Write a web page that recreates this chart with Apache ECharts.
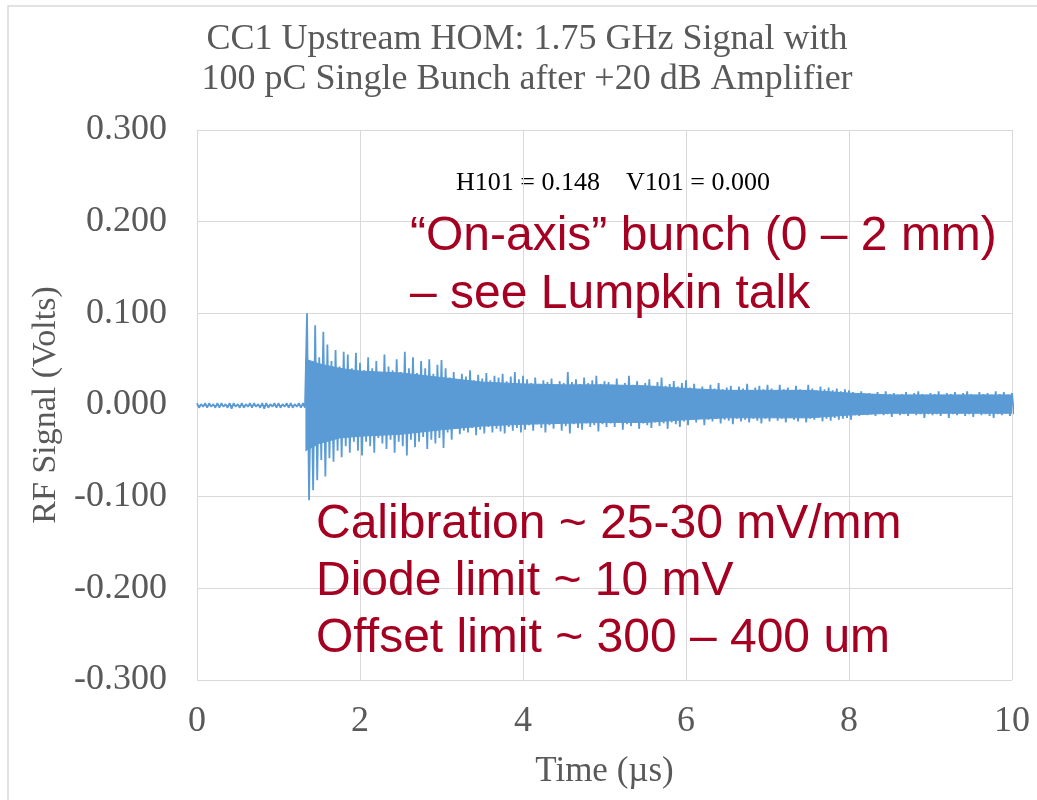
<!DOCTYPE html>
<html>
<head>
<meta charset="utf-8">
<title>CC1 Upstream HOM</title>
<script src="https://cdn.jsdelivr.net/npm/echarts@6/dist/echarts.min.js"></script>
<style>
html, body { margin: 0; padding: 0; background: #fff; }
#demo { width: 1037px; height: 800px; }
</style>
</head>
<body>
<div id="demo"></div>
<script>
// sample spacing of the peak readings (us)
var sampleStep = 0.05;

// positive / negative peaks read every 0.05 us, from t = 0 to t = 10 us (Volts)
var sigHigh = [
    // 0 - 1.30 us, quiet baseline
    0.002, 0.001, 0.002, 0.002, 0.001, 0.002, 0.002, 0.001, 0.002, 0.002,
    0.001, 0.002, 0.001, 0.002, 0.002, 0.001, 0.002, 0.002, 0.001, 0.002,
    0.002, 0.001, 0.002, 0.002, 0.001, 0.002, 0.002,
    // 1.35 - 2.00
    0.100, 0.045, 0.087, 0.052, 0.080, 0.066, 0.048, 0.060, 0.042, 0.058, 0.055, 0.040, 0.057, 0.046,
    // 2.05 - 3.00
    0.038, 0.052, 0.040, 0.048, 0.036, 0.055, 0.042, 0.038, 0.050, 0.036,
    0.058, 0.040, 0.052, 0.035, 0.048, 0.040, 0.050, 0.034, 0.044, 0.049,
    // 3.05 - 4.00
    0.040, 0.030, 0.036, 0.028, 0.034, 0.031, 0.038, 0.027, 0.033, 0.029,
    0.035, 0.027, 0.032, 0.030, 0.034, 0.026, 0.031, 0.036, 0.028, 0.032,
    // 4.05 - 5.00
    0.028, 0.024, 0.030, 0.023, 0.027, 0.025, 0.029, 0.022, 0.026, 0.024,
    0.036, 0.025, 0.028, 0.023, 0.030, 0.024, 0.027, 0.032, 0.023, 0.026,
    // 5.05 - 6.00
    0.025, 0.022, 0.029, 0.021, 0.024, 0.032, 0.022, 0.026, 0.020, 0.024,
    0.028, 0.021, 0.025, 0.030, 0.021, 0.023, 0.026, 0.020, 0.024, 0.027,
    // 6.05 - 7.00
    0.019, 0.023, 0.017, 0.020, 0.016, 0.022, 0.018, 0.024, 0.017, 0.019,
    0.021, 0.016, 0.020, 0.018, 0.023, 0.016, 0.019, 0.021, 0.017, 0.022,
    // 7.05 - 8.00
    0.018, 0.016, 0.022, 0.017, 0.019, 0.016, 0.021, 0.017, 0.016, 0.022,
    0.018, 0.016, 0.020, 0.017, 0.019, 0.016, 0.018, 0.015, 0.017, 0.016,
    // 8.05 - 9.00
    0.014, 0.012, 0.015, 0.011, 0.013, 0.012, 0.014, 0.011, 0.015, 0.012,
    0.013, 0.011, 0.012, 0.014, 0.011, 0.013, 0.015, 0.012, 0.011, 0.013,
    // 9.05 - 10.00
    0.012, 0.015, 0.011, 0.013, 0.012, 0.014, 0.011, 0.013, 0.015, 0.012,
    0.011, 0.014, 0.012, 0.013, 0.011, 0.015, 0.012, 0.014, 0.011, 0.013
];
var sigLow = [
    -0.003, -0.002, -0.003, -0.002, -0.003, -0.003, -0.002, -0.003, -0.004, -0.002,
    -0.003, -0.003, -0.002, -0.003, -0.002, -0.003, -0.004, -0.003, -0.002, -0.003,
    -0.003, -0.002, -0.003, -0.003, -0.002, -0.003, -0.003,
    -0.104, -0.093, -0.082, -0.060, -0.078, -0.058, -0.062, -0.050, -0.057, -0.045, -0.052, -0.040, -0.050, -0.055,
    -0.040, -0.045, -0.052, -0.036, -0.042, -0.048, -0.038, -0.052, -0.040, -0.045,
    -0.055, -0.038, -0.046, -0.040, -0.035, -0.048, -0.038, -0.042, -0.036, -0.047,
    -0.030, -0.038, -0.026, -0.032, -0.028, -0.030, -0.025, -0.033, -0.027, -0.031,
    -0.024, -0.030, -0.026, -0.029, -0.031, -0.024, -0.028, -0.025, -0.030, -0.027,
    -0.022, -0.028, -0.021, -0.025, -0.030, -0.022, -0.026, -0.020, -0.028, -0.023,
    -0.031, -0.021, -0.025, -0.027, -0.020, -0.024, -0.022, -0.029, -0.021, -0.024,
    -0.020, -0.024, -0.019, -0.027, -0.021, -0.023, -0.019, -0.026, -0.020, -0.022,
    -0.025, -0.019, -0.023, -0.020, -0.026, -0.019, -0.021, -0.024, -0.018, -0.022,
    -0.016, -0.019, -0.015, -0.022, -0.016, -0.018, -0.015, -0.020, -0.016, -0.017,
    -0.021, -0.015, -0.018, -0.016, -0.019, -0.015, -0.017, -0.020, -0.015, -0.018,
    -0.014, -0.017, -0.015, -0.019, -0.014, -0.016, -0.018, -0.014, -0.019, -0.015,
    -0.016, -0.014, -0.018, -0.015, -0.017, -0.014, -0.016, -0.015, -0.014, -0.016,
    -0.011, -0.012, -0.009, -0.011, -0.010, -0.012, -0.009, -0.011, -0.010, -0.013,
    -0.009, -0.011, -0.010, -0.012, -0.009, -0.011, -0.010, -0.014, -0.010, -0.011,
    -0.010, -0.012, -0.009, -0.014, -0.010, -0.011, -0.009, -0.012, -0.010, -0.013,
    -0.009, -0.011, -0.010, -0.012, -0.014, -0.010, -0.011, -0.009, -0.012, -0.010
];

// solid core of the ringing (where the trace is too dense to separate), Volts
var bandTimes = [1.33, 1.5, 1.75, 2, 2.5, 3, 3.5, 4, 4.5, 5, 5.5, 6, 6.5, 7, 7.5, 8, 8.5, 9, 9.5, 10];
var bandHigh = [0.050, 0.045, 0.040, 0.037, 0.035, 0.030, 0.025, 0.023, 0.022, 0.022,
                0.021, 0.018, 0.016, 0.016, 0.016, 0.013, 0.011, 0.011, 0.011, 0.011];
var bandLow = [-0.050, -0.042, -0.036, -0.034, -0.032, -0.027, -0.023, -0.021, -0.020, -0.019,
               -0.019, -0.016, -0.014, -0.014, -0.014, -0.011, -0.009, -0.009, -0.009, -0.009];

var xTicks = [0, 2, 4, 6, 8, 10];

var chartTitle = 'CC1 Upstream HOM: 1.75 GHz Signal with\n100 pC Single Bunch after +20 dB Amplifier';
var noteText = 'H101 = 0.148    V101 = 0.000';
var redTop = ['\u201cOn-axis\u201d bunch (0 \u2013 2 mm)', '\u2013 see Lumpkin talk'];
var redBottom = ['Calibration ~ 25-30 mV/mm', 'Diode limit ~ 10 mV', 'Offset limit ~ 300 \u2013 400 um'];

window.onload = function() {
    var blue = '#5B9BD5';

    // each reading gives one upswing and one downswing of the ringing
    var line = [];
    for (var i = 0; i < sigHigh.length; i++) {
        var t = i * sampleStep;
        line.push([t, sigHigh[i]]);
        line.push([t + sampleStep / 2, sigLow[i]]);
    }
    var coreTop = bandTimes.map(function(t, k) { return [t, bandHigh[k]]; });
    var coreBottom = bandTimes.map(function(t, k) { return [t, bandLow[k]]; });

    var serif = 'Liberation Serif, Times New Roman, serif';
    var sans = 'Liberation Sans, Arial, sans-serif';
    var red = '#A50021';

    var graphics = [{
        type: 'rect',
        shape: { x: 8, y: 6, width: 1100, height: 900 },
        style: { fill: 'none', stroke: '#D9D9D9', lineWidth: 1.5 },
        silent: true
    }, {
        type: 'text',
        x: 527, y: 60,
        style: {
            text: chartTitle, fill: '#595959', font: '36px ' + serif,
            textAlign: 'center', textVerticalAlign: 'middle', lineHeight: 40
        }
    }, {
        type: 'text',
        x: 613, y: 183,
        style: { text: noteText, fill: '#000', font: '26px ' + serif, textAlign: 'center', textVerticalAlign: 'middle' }
    }];
    redTop.forEach(function(s, k) {
        graphics.push({
            type: 'text', x: 410, y: 237 + k * 58, z: 10,
            style: { text: s, fill: red, font: '48px ' + sans, textVerticalAlign: 'middle' }
        });
    });
    redBottom.forEach(function(s, k) {
        graphics.push({
            type: 'text', x: 316, y: 525 + k * 57, z: 10,
            style: { text: s, fill: red, font: '48px ' + sans, textVerticalAlign: 'middle' }
        });
    });

    var coreSeries = function(name, data) {
        return {
            name: name,
            type: 'line',
            data: data,
            showSymbol: false,
            symbol: 'none',
            lineStyle: { color: blue, width: 1 },
            areaStyle: { color: blue, opacity: 1, origin: 0 },
            z: 2
        };
    };

    var option = {
        backgroundColor: '#fff',
        animation: false,
        grid: { left: 197, right: 25, top: 130, bottom: 120 },
        xAxis: {
            type: 'value',
            min: xTicks[0],
            max: xTicks[xTicks.length - 1],
            interval: 2,
            name: 'Time (\u00b5s)',
            nameLocation: 'middle',
            nameGap: 74,
            nameTextStyle: { fontFamily: serif, fontSize: 35, color: '#595959' },
            axisLine: { show: true, lineStyle: { color: '#D9D9D9' } },
            axisTick: { show: false },
            axisLabel: { fontFamily: serif, fontSize: 36, color: '#595959', margin: 24 },
            splitLine: { show: true, lineStyle: { color: '#D9D9D9', width: 1 } }
        },
        yAxis: {
            type: 'value',
            min: -0.3,
            max: 0.3,
            interval: 0.1,
            name: 'RF Signal (Volts)',
            nameLocation: 'middle',
            nameGap: 126,
            nameTextStyle: { fontFamily: serif, fontSize: 34, color: '#595959' },
            axisLine: { show: true, lineStyle: { color: '#D9D9D9' } },
            axisTick: { show: false },
            axisLabel: {
                fontFamily: serif, fontSize: 36, color: '#595959', margin: 30,
                formatter: function(v) {
                    if (Math.abs(v) < 1e-9) v = 0;
                    return v.toFixed(3);
                }
            },
            splitLine: { show: true, lineStyle: { color: '#D9D9D9', width: 1 } }
        },
        graphic: graphics,
        series: [
            coreSeries('core top', coreTop),
            coreSeries('core bottom', coreBottom),
            {
                name: 'RF Signal',
                type: 'line',
                data: line,
                showSymbol: false,
                symbol: 'none',
                lineStyle: { color: blue, width: 1.8 },
                areaStyle: { color: blue, opacity: 1, origin: 0 },
                z: 3
            }
        ]
    };
    var myCharts = echarts.init(document.getElementById('demo'));
    myCharts.setOption(option);
    window.onresize = function() {
        myCharts.resize();
    };
};
</script>
</body>
</html>
